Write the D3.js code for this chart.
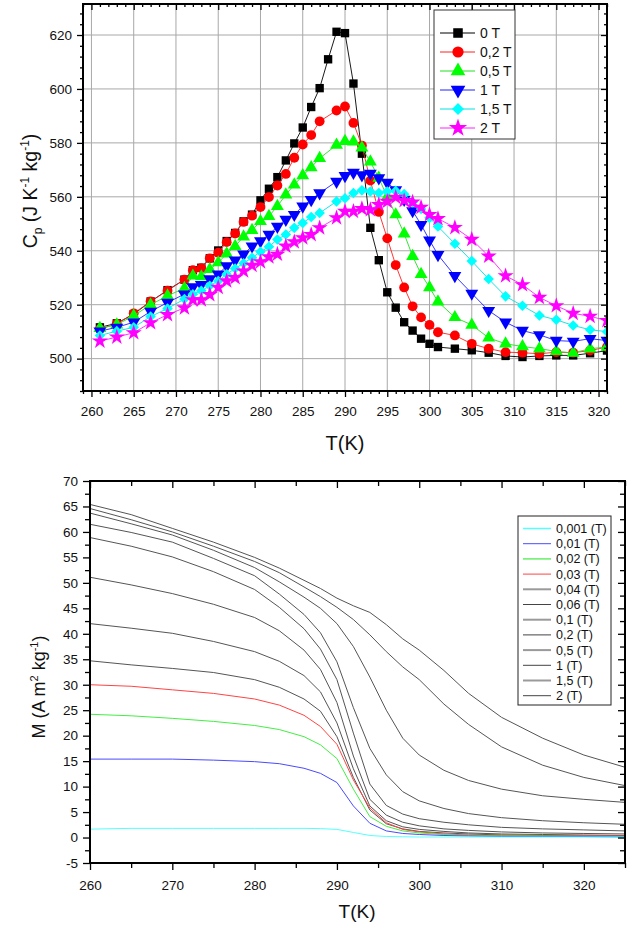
<!DOCTYPE html>
<html><head><meta charset="utf-8">
<script src="https://cdn.jsdelivr.net/npm/d3@7"></script>
<style>body{margin:0;background:#fff} text{font-family:"Liberation Sans",Arial,sans-serif;fill:#111}</style>
</head><body><svg id="c" width="628" height="926"></svg>
<script>
// ---------- Top chart data (Cp vs T) ----------
const cpLabels = ["0 T","0,2 T","0,5 T","1 T","1,5 T","2 T"];
const tBlack = [261,263,265,267,269,271,272,273,274,275,276,277,278,279,280,281,282,283,284,285,286,287,288,289,290,291,292,293,294,295,296,297,298,299,300,301,303,305,307,309,311,313,315,317,319,321];
const cp0T   = [511.6,513.1,516.5,521.2,525.4,529.3,532.8,533.7,537.2,540.1,543.6,546.6,550.9,553.4,558.7,563,567.3,573.5,579.8,585.7,593.3,600.3,611,621.2,620.7,602,576,548.5,536.5,524.6,518.9,513.5,510.4,507.4,505.5,504.3,503.7,503.1,502.2,501,500.6,501,501.2,501.2,502,503];
const tField = [261,263,265,267,269,271,272,273,274,275,276,277,278,279,280,281,282,283,284,285,286,287,289,290,291,292,293,294,295,296,297,298,299,300,301,303,305,307,309,311,313,315,317,319,321];
const cp02T  = [511,512.9,516.8,521.2,525.2,529.3,532.8,533.5,537.2,539.3,543.2,546.4,550.7,553,556.2,559.9,564.2,568.5,574.5,579.4,582.9,588,592,593.5,587.4,579,566,554.4,544.6,534.7,526.4,519.4,515.3,512.5,509.8,508.6,505.5,503.7,502.4,502.2,501.8,502.4,502.2,503,504.3];
const cp05T  = [511.3,512.6,515.9,520,523.3,526.1,530.7,530.4,533.1,535.6,538.9,541.7,545.2,547.6,550.9,552.8,556.5,560.8,564.5,567.9,570.9,574.3,579.2,580.6,580.4,578.2,573,567,560,553.4,546.3,538,531.3,526.4,521.1,515.3,512.5,507.7,505.5,504.5,503.7,502.7,502.1,503.7,504.3];
const cp1T   = [510.2,511.6,513.5,517.5,520.8,523.9,526.6,527.4,529.5,531.3,534.4,536.5,538.7,541.7,543.6,546,549,551.6,553.4,556.5,558.9,561.4,565.7,567.8,569,568.1,568.7,567,565.3,562.5,559,554.8,549.7,543.9,538.5,530.7,524.2,517.8,513.5,510.4,508.8,506.7,506.4,507.4,506.7];
const cp15T  = [508.6,510.2,511.6,515.6,518.6,522.1,523.9,525.2,527,528.8,531.3,533.4,535.4,537.4,539.6,541.5,544.2,546,548.5,550.3,552.5,554,558.3,559.5,561.4,562.4,562,561.4,562,562.2,561,558,555.5,552.2,549,542.6,536.2,529.5,523.1,519.6,516,514.4,512.3,510.7,510];
const cp2T   = [506.5,508,509.6,513.3,516.3,518.8,521.8,521.8,523.7,526.4,528.8,530,532.5,534.6,535.9,537.7,538.7,541.7,543.3,544.8,546,548.5,552.2,554.6,554.6,555.6,555.2,557.1,558.3,559.8,558.6,558,556.1,553.4,551.9,548.6,544.2,538,530.7,527.4,522.7,519.6,516.8,515.7,514.1];
const cpXTicks = [260,265,270,275,280,285,290,295,300,305,310,315,320];
const cpYTicks = [500,520,540,560,580,600,620];

// ---------- Bottom chart data (M vs T) ----------
const mLabels = ["0,001 (T)","0,01 (T)","0,02 (T)","0,03 (T)","0,04 (T)","0,06 (T)","0,1 (T)","0,2 (T)","0,5 (T)","1 (T)","1,5 (T)","2 (T)"];
const mT     = [260,265,270,275,280,283,286,288,290,292,294,296,298,300,303,306,310,315,320,325];
const m0001  = [1.65,1.8,1.8,1.8,1.8,1.8,1.8,1.75,1.6,1.0,0.4,0.2,0.15,0.1,0.1,0.1,0.1,0.1,0.1,0.1];
const m001   = [15.4,15.4,15.4,15.2,14.9,14.5,13.6,12.6,10.8,6.2,2.8,1.3,0.8,0.6,0.4,0.3,0.2,0.2,0.2,0.1];
const m002   = [24.2,23.9,23.4,22.8,22.0,21.2,19.8,18.2,15.5,9.5,4.1,2.2,1.3,0.9,0.6,0.4,0.3,0.3,0.2,0.2];
const m003   = [30.0,29.7,29.0,28.3,27.2,26.0,24.0,21.8,18.3,11.3,5.8,2.9,1.6,1.1,0.7,0.5,0.4,0.3,0.3,0.3];
const m004   = [34.7,33.9,33.2,32.4,31.0,29.5,27.2,24.8,19.8,11.8,5.4,2.7,1.7,1.2,0.9,0.7,0.5,0.4,0.3,0.3];
const m006   = [42.0,41.1,40.1,38.5,36.5,34.6,31.8,28.6,22.5,13.5,6.2,3.3,2.1,1.6,1.2,0.9,0.7,0.6,0.5,0.4];
const m01    = [51.1,49.6,47.9,45.8,43.2,40.6,36.8,33.0,26.5,16.0,7.5,4.4,3.0,2.3,1.7,1.4,1.1,0.9,0.8,0.7];
const m02    = [58.9,57.2,55.1,52.2,48.7,45.2,41.0,37.0,31.0,20.5,10.5,6.3,4.6,3.7,3.0,2.5,2.0,1.7,1.5,1.3];
const m05    = [61.5,59.9,58.0,54.8,51.4,47.8,43.8,40.2,34.5,25.5,17.5,12.3,9.0,7.2,5.7,4.7,3.9,3.3,2.9,2.6];
const m1     = [63.7,61.6,59.4,56.4,53.0,50.2,47.2,45.0,42.0,37.5,31.5,25.0,19.5,16.2,13.2,11.2,9.5,8.2,7.5,6.9];
const m15    = [64.6,62.4,60.0,57.2,54.2,52.0,49.2,47.3,45.2,42.8,39.8,36.5,33.5,31.0,26.2,22.2,17.8,14.2,11.8,10.2];
const m2     = [65.4,63.4,60.7,58.0,55.0,52.9,50.5,48.9,47.0,45.5,44.2,41.8,39.0,36.8,32.8,28.3,23.6,19.5,16.2,13.8];
const mXTicks = [260,270,280,290,300,310,320];
const mYTicks = [-5,0,5,10,15,20,25,30,35,40,45,50,55,60,65,70];

// ---------- helpers ----------
const svg = d3.select("#c");
const fmt = d => String(d);

function frame(x, y, cfg) {
  const [x0, x1] = x.range(), [y0, y1] = y.range();
  const g = svg.append("g");
  const add = (tr, axis) => {
    const a = g.append("g").attr("transform", tr).call(axis);
    a.select(".domain").remove();
    a.selectAll("line").attr("stroke", "#000").attr("stroke-width", 1.3);
    a.selectAll("text").attr("font-size", cfg.fs).attr("fill", "#111").style("font-family", '"Liberation Sans",Arial,sans-serif');
    return a;
  };
  add(`translate(0,${y0})`, d3.axisBottom(x).tickValues(cfg.xMajor).tickSize(cfg.tl).tickPadding(cfg.xpad).tickFormat(fmt));
  add(`translate(0,${y0})`, d3.axisBottom(x).tickValues(cfg.xMinor).tickSize(cfg.ts).tickFormat(""));
  add(`translate(0,${y1})`, d3.axisBottom(x).tickValues(cfg.xMajor).tickSize(cfg.tl).tickFormat(""));
  add(`translate(0,${y1})`, d3.axisBottom(x).tickValues(cfg.xMinor).tickSize(cfg.ts).tickFormat(""));
  add(`translate(${x0},0)`, d3.axisLeft(y).tickValues(cfg.yMajor).tickSize(cfg.tl).tickPadding(cfg.ypad).tickFormat(fmt));
  add(`translate(${x0},0)`, d3.axisLeft(y).tickValues(cfg.yMinor).tickSize(cfg.ts).tickFormat(""));
  add(`translate(${x1},0)`, d3.axisLeft(y).tickValues(cfg.yMajor).tickSize(cfg.tl).tickFormat(""));
  add(`translate(${x1},0)`, d3.axisLeft(y).tickValues(cfg.yMinor).tickSize(cfg.ts).tickFormat(""));
  g.append("rect").attr("x", x0).attr("y", y1).attr("width", x1 - x0).attr("height", y0 - y1)
    .attr("fill", "none").attr("stroke", "#000").attr("stroke-width", 2);
}

// ---------- Top chart ----------
const xT = d3.scaleLinear([259, 321], [83, 607]);
const yT = d3.scaleLinear([488, 631.5], [391, 4]);
const cpXMinor = d3.range(259, 322).filter(v => v % 5 !== 0);
const cpYMinor = d3.range(488, 632, 4).filter(v => v % 20 !== 0);

svg.append("defs").append("clipPath").attr("id", "clipT")
  .append("rect").attr("x", 83).attr("y", 4).attr("width", 524).attr("height", 387);

(function () {
  const gg = svg.append("g").attr("stroke", "#a8a8a8").attr("stroke-width", 1);
  cpXTicks.forEach(v => gg.append("line").attr("x1", xT(v)).attr("x2", xT(v)).attr("y1", 391).attr("y2", 4));
  cpYTicks.forEach(v => gg.append("line").attr("y1", yT(v)).attr("y2", yT(v)).attr("x1", 83).attr("x2", 607));
})();

const cpSeries = [
  {T: tBlack, v: cp0T,  color: "#000000", line: "#000000", sym: d3.symbolSquare,   size: 70, rot: 0},
  {T: tField, v: cp02T, color: "#ff0000", line: "#ff2020", sym: d3.symbolCircle,   size: 76, rot: 0},
  {T: tField, v: cp05T, color: "#00ff00", line: "#20e020", sym: d3.symbolTriangle, size: 72, rot: 0},
  {T: tField, v: cp1T,  color: "#0000ff", line: "#2020ff", sym: d3.symbolTriangle, size: 72, rot: 180},
  {T: tField, v: cp15T, color: "#00ffff", line: "#00e0e0", sym: d3.symbolSquare,   size: 56, rot: 45},
  {T: tField, v: cp2T,  color: "#ff00ff", line: "#ff20ff", sym: d3.symbolStar,     size: 80, rot: 0}
];
const plotT = svg.append("g").attr("clip-path", "url(#clipT)");
cpSeries.forEach(s => {
  const pts = s.T.map((t, i) => [t, s.v[i]]);
  plotT.append("path").datum(pts)
    .attr("d", d3.line().x(d => xT(d[0])).y(d => yT(d[1])))
    .attr("fill", "none").attr("stroke", s.line).attr("stroke-width", 0.9);
  plotT.append("g").selectAll("path").data(pts).join("path")
    .attr("d", d3.symbol(s.sym, s.size))
    .attr("transform", d => `translate(${xT(d[0])},${yT(d[1])}) rotate(${s.rot})`)
    .attr("fill", s.color);
});

frame(xT, yT, {xMajor: cpXTicks, xMinor: cpXMinor, yMajor: cpYTicks, yMinor: cpYMinor,
  tl: 6, ts: 3, xpad: 9, ypad: 5, fs: 13.5});

(function () {
  const lg = svg.append("g");
  lg.append("rect").attr("x", 434).attr("y", 10).attr("width", 81).attr("height", 129)
    .attr("fill", "#fff").attr("stroke", "#333").attr("stroke-width", 1);
  cpSeries.forEach((s, i) => {
    const yy = 33 + 19 * i;
    lg.append("line").attr("x1", 440).attr("x2", 475).attr("y1", yy).attr("y2", yy)
      .attr("stroke", s.line).attr("stroke-width", 1);
    lg.append("path").attr("d", d3.symbol(s.sym, s.size * 1.3))
      .attr("transform", `translate(458,${yy}) rotate(${s.rot})`).attr("fill", s.color);
    lg.append("text").attr("x", 480).attr("y", yy + 5).attr("font-size", 14).text(cpLabels[i]);
  });
})();

svg.append("text").attr("x", 345).attr("y", 450).attr("text-anchor", "middle")
  .attr("font-size", 20).text("T(K)");
(function () {
  const t = svg.append("text").attr("transform", "translate(37,191) rotate(-90)")
    .attr("text-anchor", "middle").attr("font-size", 19.5);
  t.append("tspan").text("C");
  t.append("tspan").attr("font-size", 12).attr("dy", 5).text("p");
  t.append("tspan").attr("dy", -5).text(" (J K");
  t.append("tspan").attr("font-size", 12).attr("dy", -8).text("-1");
  t.append("tspan").attr("dy", 8).text(" kg");
  t.append("tspan").attr("font-size", 12).attr("dy", -8).text("-1");
  t.append("tspan").attr("dy", 8).text(")");
})();

// ---------- Bottom chart ----------
const xB = d3.scaleLinear([260, 325], [90, 625]);
const yB = d3.scaleLinear([-5, 70], [863, 481]);
const mXMinor = [265, 275, 285, 295, 305, 315, 325];
const mYMinor = d3.range(-2.5, 70, 5);

const mSeries = [
  {v: m0001, color: "#55ffff", lg: "#55ffff", lw: 1.5},
  {v: m001,  color: "#4a4aff", lg: "#4a4aff", lw: 1},
  {v: m002,  color: "#44ee44", lg: "#66ee66", lw: 1.5},
  {v: m003,  color: "#ff4444", lg: "#ff4444", lw: 1},
  {v: m004,  color: "#555555", lg: "#9a9a9a", lw: 2},
  {v: m006,  color: "#555555", lg: "#444444", lw: 1},
  {v: m01,   color: "#555555", lg: "#9a9a9a", lw: 2},
  {v: m02,   color: "#555555", lg: "#444444", lw: 1},
  {v: m05,   color: "#555555", lg: "#9a9a9a", lw: 2},
  {v: m1,    color: "#555555", lg: "#444444", lw: 1},
  {v: m15,   color: "#555555", lg: "#9a9a9a", lw: 2},
  {v: m2,    color: "#555555", lg: "#444444", lw: 1}
];
const plotB = svg.append("g");
mSeries.slice().reverse().forEach(s => {
  plotB.append("path").datum(mT.map((t, i) => [t, s.v[i]]))
    .attr("d", d3.line().x(d => xB(d[0])).y(d => yB(d[1])))
    .attr("fill", "none").attr("stroke", s.color).attr("stroke-width", 1);
});

frame(xB, yB, {xMajor: mXTicks, xMinor: mXMinor, yMajor: mYTicks, yMinor: mYMinor,
  tl: 7, ts: 5, xpad: 10, ypad: 5, fs: 13.5});

(function () {
  const lg = svg.append("g");
  lg.append("rect").attr("x", 518).attr("y", 516).attr("width", 93).attr("height", 189)
    .attr("fill", "#fff").attr("stroke", "#222").attr("stroke-width", 1);
  mSeries.forEach((s, i) => {
    const yy = 528.5 + 15.2 * i;
    lg.append("line").attr("x1", 523).attr("x2", 551).attr("y1", yy).attr("y2", yy)
      .attr("stroke", s.lg).attr("stroke-width", s.lw);
    lg.append("text").attr("x", 556).attr("y", yy + 4.5).attr("font-size", 12.5).text(mLabels[i]);
  });
})();

svg.append("text").attr("x", 357).attr("y", 918).attr("text-anchor", "middle")
  .attr("font-size", 19).text("T(K)");
(function () {
  const t = svg.append("text").attr("transform", "translate(45,687) rotate(-90)")
    .attr("text-anchor", "middle").attr("font-size", 18);
  t.append("tspan").text("M (A m");
  t.append("tspan").attr("font-size", 11).attr("dy", -7).text("2");
  t.append("tspan").attr("dy", 7).text(" kg");
  t.append("tspan").attr("font-size", 11).attr("dy", -7).text("-1");
  t.append("tspan").attr("dy", 7).text(")");
})();
</script></body></html>
